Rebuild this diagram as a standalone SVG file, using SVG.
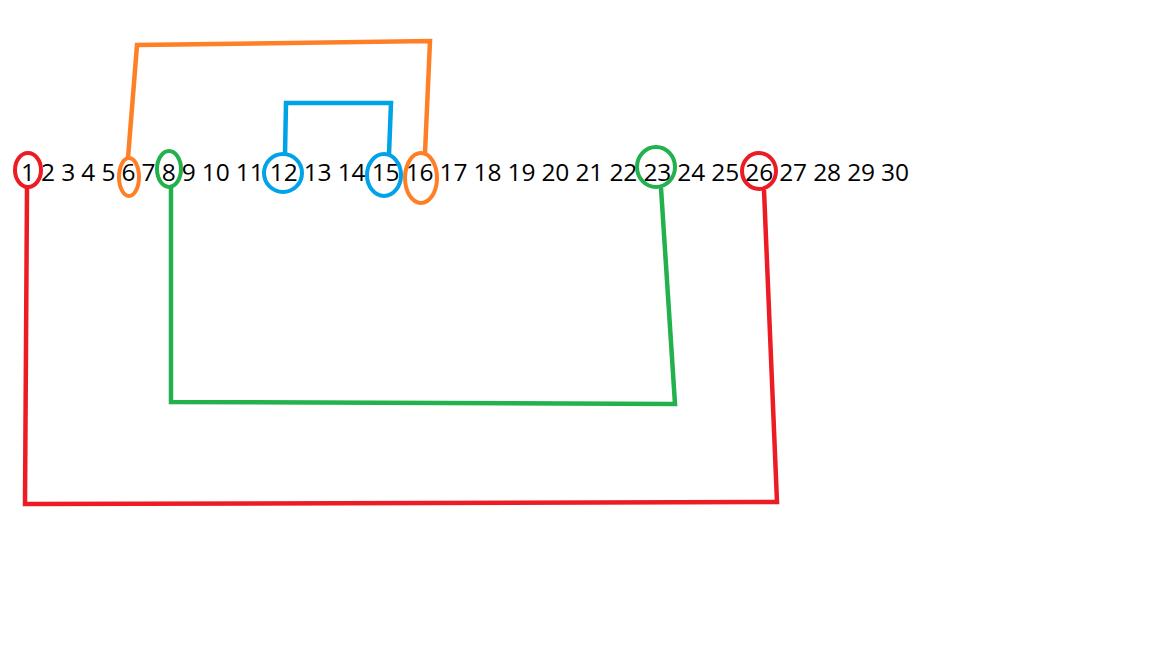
<svg xmlns="http://www.w3.org/2000/svg" width="1152" height="648" viewBox="0 0 1152 648">
<style>
.num{font-family:"Open Sans","Noto Sans","Liberation Sans",sans-serif;font-size:24.5px;fill:#000}
.mk{fill:none;stroke-width:4}
.ln{fill:none;stroke-width:4.5;stroke-linejoin:miter}
.r{stroke:#ED1C24}.o{stroke:#FF7F27}.g{stroke:#22B14C}.b{stroke:#00A2E8}
</style>
<rect width="1152" height="648" fill="#fff"/>
<g id="numbers">
<text class="num" x="21" y="181" textLength="888" lengthAdjust="spacing">1 2 3 4 5 6 7 8 9 10 11 12 13 14 15 16 17 18 19 20 21 22 23 24 25 26 27 28 29 30</text>
</g>
<g id="n1"><ellipse class="mk r" cx="28" cy="170" rx="13" ry="17"/></g>
<g id="n6"><ellipse class="mk o" cx="129" cy="177" rx="10" ry="19"/></g>
<g id="n8"><ellipse class="mk g" cx="169" cy="169" rx="12" ry="18"/></g>
<g id="n12"><ellipse class="mk b" cx="283" cy="173" rx="19" ry="19"/></g>
<g id="n15"><ellipse class="mk b" cx="384" cy="175" rx="17" ry="21"/></g>
<g id="n16"><ellipse class="mk o" cx="421" cy="178" rx="16" ry="25"/></g>
<g id="n23"><ellipse class="mk g" cx="656" cy="167" rx="19" ry="20"/></g>
<g id="n26"><ellipse class="mk r" cx="759" cy="171" rx="17" ry="18"/></g>
<g id="connectors">
<polyline class="ln o" points="128,158 137,45 430,41 425,153"/>
<polyline class="ln b" points="285,154 286,103 391,103 389,154"/>
<polyline class="ln g" points="171,188 171,402 675,404 661,188"/>
<polyline class="ln r" points="27,188 25,504 777,502 764,190"/>
</g>
</svg>
